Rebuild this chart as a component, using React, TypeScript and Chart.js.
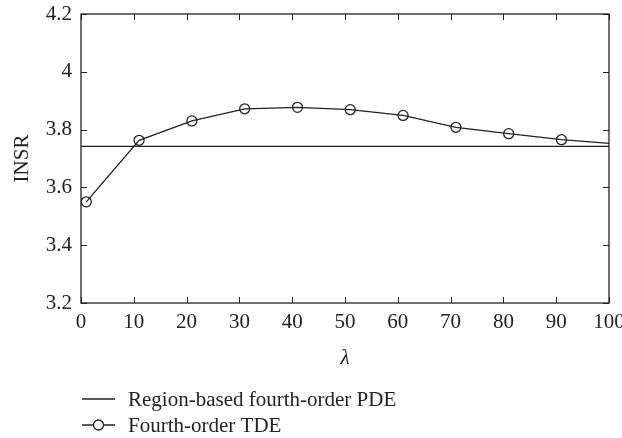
import React, { useEffect, useRef } from "react";
import { Chart, registerables } from "chart.js";

Chart.register(...registerables);

const lambdaValues = [1, 11, 21, 31, 41, 51, 61, 71, 81, 91, 100];
const tdeValues = [3.55, 3.763, 3.83, 3.872, 3.877, 3.869, 3.849, 3.808, 3.786, 3.765, 3.752];
const tdeMarkers = [true, true, true, true, true, true, true, true, true, true, false];
const pdeX = [0, 100];
const pdeValues = [3.742, 3.742];
const xTicks = [0, 10, 20, 30, 40, 50, 60, 70, 80, 90, 100];
const yTicks = [3.2, 3.4, 3.6, 3.8, 4.0, 4.2];
const legendLabels = ["Region-based fourth-order PDE", "Fourth-order TDE"];
const xTitle = "λ";
const yTitle = "INSR";

const FONT = "'Liberation Serif', 'Times New Roman', serif";
const INK = "#222";

const decorPlugin = {
  id: "decor",
  afterDraw(chart: any) {
    const ctx = chart.ctx;
    const { left, right, top, bottom } = chart.chartArea;
    const xs = chart.scales.x;
    const ys = chart.scales.y;
    ctx.save();
    ctx.strokeStyle = INK;
    ctx.lineWidth = 1;
    const tl = 6;
    ctx.beginPath();
    xTicks.forEach((v) => {
      const px = Math.round(xs.getPixelForValue(v)) + 0.5;
      ctx.moveTo(px, bottom);
      ctx.lineTo(px, bottom - tl);
      ctx.moveTo(px, top);
      ctx.lineTo(px, top + tl);
    });
    yTicks.forEach((v) => {
      const py = Math.round(ys.getPixelForValue(v)) + 0.5;
      ctx.moveTo(left, py);
      ctx.lineTo(left + tl, py);
      ctx.moveTo(right, py);
      ctx.lineTo(right - tl, py);
    });
    ctx.stroke();
    ctx.lineWidth = 1.3;
    ctx.strokeRect(left, top, right - left, bottom - top);

    // titles
    ctx.fillStyle = INK;
    ctx.textAlign = "center";
    ctx.textBaseline = "middle";
    ctx.font = `italic 21px ${FONT}`;
    ctx.fillText(xTitle, (left + right) / 2, 358);
    ctx.save();
    ctx.translate(22, (top + bottom) / 2);
    ctx.rotate(-Math.PI / 2);
    ctx.font = `21px ${FONT}`;
    ctx.fillText(yTitle, 0, 0);
    ctx.restore();

    // legend
    ctx.font = `21px ${FONT}`;
    ctx.textAlign = "left";
    const rows = [399, 425];
    const lx0 = 82;
    const lx1 = 115;
    ctx.lineWidth = 1.3;
    rows.forEach((y, i) => {
      ctx.beginPath();
      ctx.moveTo(lx0, y);
      ctx.lineTo(lx1, y);
      ctx.stroke();
      if (i === 1) {
        ctx.beginPath();
        ctx.fillStyle = "#fff";
        ctx.arc((lx0 + lx1) / 2, y, 5, 0, Math.PI * 2);
        ctx.fill();
        ctx.stroke();
      }
      ctx.fillStyle = INK;
      ctx.fillText(legendLabels[i], 128, y + 1);
    });
    ctx.restore();
  },
};

export default function App() {
  const ref = useRef<HTMLCanvasElement>(null);
  useEffect(() => {
    if (!ref.current) return;
    const chart = new Chart(ref.current, {
      type: "scatter",
      data: {
        datasets: [
          {
            label: legendLabels[0],
            data: pdeX.map((x, i) => ({ x, y: pdeValues[i] })),
            showLine: true,
            borderColor: INK,
            borderWidth: 1.3,
            pointRadius: 0,
          },
          {
            label: legendLabels[1],
            data: lambdaValues.map((x, i) => ({ x, y: tdeValues[i] })),
            showLine: true,
            borderColor: INK,
            borderWidth: 1.3,
            backgroundColor: "rgba(255,255,255,0)",
            pointBorderColor: INK,
            pointBorderWidth: 1.3,
            pointRadius: tdeMarkers.map((m) => (m ? 5 : 0)),
          },
        ],
      },
      options: {
        animation: false,
        responsive: false,
        devicePixelRatio: 1,
        layout: { padding: { top: 14, right: 13, left: 0, bottom: 0 } },
        plugins: { legend: { display: false }, tooltip: { enabled: false } },
        scales: {
          x: {
            type: "linear",
            min: 0,
            max: 100,
            afterFit: (s: any) => {
              s.height = 135;
              s.paddingLeft = 0;
              s.paddingRight = 0;
            },
            afterBuildTicks: (s: any) => {
              s.ticks = xTicks.map((v) => ({ value: v }));
            },
            grid: { display: false, drawTicks: false },
            border: { display: false },
            ticks: {
              color: INK,
              font: { family: FONT, size: 21 },
              padding: 7,
              maxRotation: 0,
              autoSkip: false,
            },
          },
          y: {
            type: "linear",
            min: 3.2,
            max: 4.2,
            afterFit: (s: any) => {
              s.width = 81;
              s.paddingTop = 0;
              s.paddingBottom = 0;
            },
            afterBuildTicks: (s: any) => {
              s.ticks = yTicks.map((v) => ({ value: v }));
            },
            grid: { display: false, drawTicks: false },
            border: { display: false },
            ticks: {
              color: INK,
              font: { family: FONT, size: 21 },
              padding: 9,
              callback: (v: any) => String(Math.round(Number(v) * 10) / 10),
            },
          },
        },
      },
      plugins: [decorPlugin],
    });
    return () => chart.destroy();
  }, []);
  return (
    <div style={{ position: "fixed", left: 0, top: 0, width: 622, height: 438, background: "#fff" }}>
      <canvas ref={ref} width={622} height={438} style={{ width: 622, height: 438 }} />
    </div>
  );
}
